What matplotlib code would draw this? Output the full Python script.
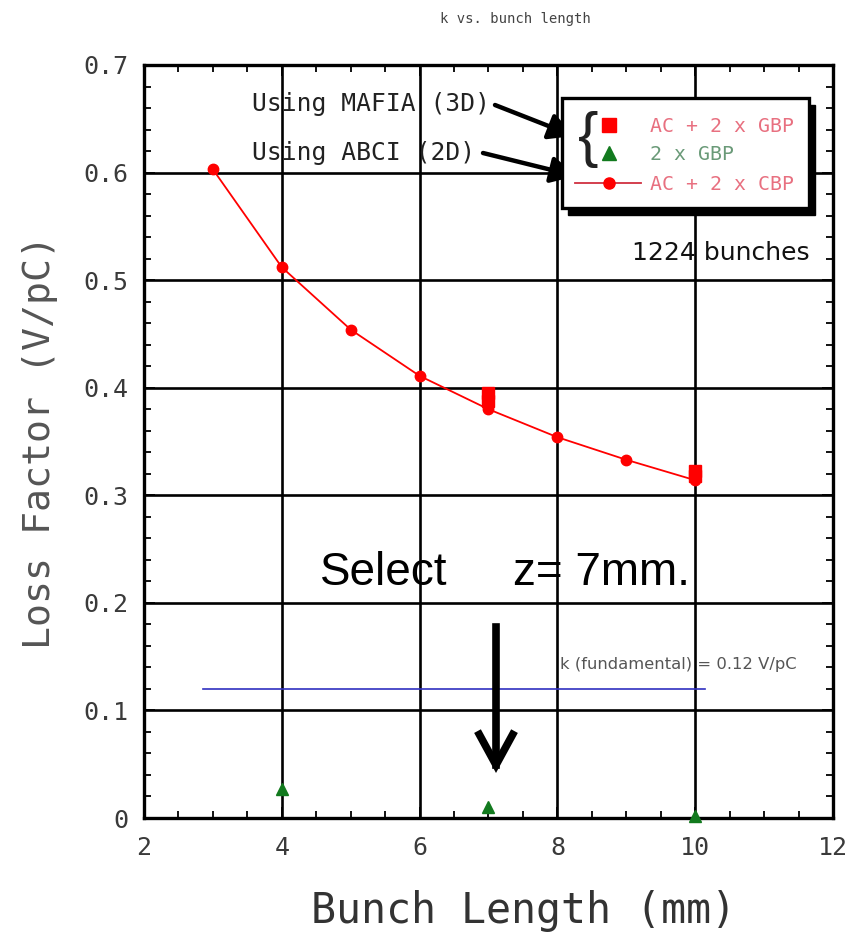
import matplotlib
matplotlib.use("Agg")
import matplotlib.pyplot as plt
from matplotlib.patches import Rectangle, FancyArrowPatch
from matplotlib.lines import Line2D
from matplotlib.ticker import MultipleLocator

# ---- data ----
abci_x = [3, 4, 5, 6, 7, 8, 9, 10]
abci_k = [0.603, 0.512, 0.454, 0.411, 0.380, 0.354, 0.333, 0.314]
mafia_full_x = [7, 7, 10, 10]
mafia_full_k = [0.395, 0.388, 0.323, 0.318]
mafia_gbp_x = [4, 7, 10]
mafia_gbp_k = [0.027, 0.010, 0.002]
k_fund = 0.12
k_fund_x = [2.86, 10.14]
x_ticks = [2, 4, 6, 8, 10, 12]
y_ticks = [0, 0.1, 0.2, 0.3, 0.4, 0.5, 0.6, 0.7]
y_tick_labels = ["0", "0.1", "0.2", "0.3", "0.4", "0.5", "0.6", "0.7"]

W, H = 854, 935
fig = plt.figure(figsize=(W / 100, H / 100), dpi=100)
ax = fig.add_axes([144 / W, 1 - 818 / H, (833 - 144) / W, (818 - 65) / H])

def P(x, y):
    return (x / W, 1 - y / H)

FT = fig.transFigure
MONO = "DejaVu Sans Mono"

ax.set_xlim(2, 12)
ax.set_ylim(0, 0.7)
ax.xaxis.set_minor_locator(MultipleLocator(0.5))
ax.yaxis.set_minor_locator(MultipleLocator(0.02))
ax.grid(True, which="major", color="black", linewidth=1.9)
ax.set_axisbelow(True)
for s in ax.spines.values():
    s.set_linewidth(2.4)
ax.tick_params(which="both", direction="in", top=True, right=True, width=1.3, colors="black",
               labelcolor="#3a3a3a")
ax.tick_params(which="major", length=8, labelsize=18)
ax.tick_params(axis="y", which="major", pad=11)
ax.tick_params(axis="x", which="major", pad=13)
ax.tick_params(which="minor", length=5)
ax.set_xticks(x_ticks)
ax.set_xticklabels([str(v) for v in x_ticks], family=MONO)
ax.set_yticks(y_ticks)
ax.set_yticklabels(y_tick_labels, family=MONO)

# data
ax.plot(abci_x, abci_k, color="red", linewidth=1.3, marker="o", markersize=7.5, zorder=4)
ax.plot(mafia_full_x, mafia_full_k, linestyle="none", color="red", marker="s", markersize=8.5, zorder=5)
ax.plot(mafia_gbp_x, mafia_gbp_k, linestyle="none", color="#127a1e", marker="^", markersize=8.5,
        zorder=5, clip_on=False)
ax.plot(k_fund_x, [k_fund, k_fund], color="#3030c0", linewidth=1.2, zorder=3)

# labels
fig.text(*P(515, 19), "k vs. bunch length", ha="center", va="center", fontsize=10, color="#444444", family=MONO)
fig.text(*P(40, 442), "Loss Factor (V/pC)", ha="center", va="center", rotation=90, fontsize=27.5,
         color="#555555", family=MONO)
fig.text(*P(524, 911), "Bunch Length (mm)", ha="center", va="center", fontsize=30,
         color="#333333", family=MONO)

# annotations
fig.text(*P(252, 104), "Using MAFIA (3D)", ha="left", va="center", fontsize=17.7, family=MONO, color="#222222")
fig.text(*P(252, 153), "Using ABCI (2D)", ha="left", va="center", fontsize=17.7, family=MONO, color="#222222")
fig.add_artist(FancyArrowPatch(P(495, 105), P(574, 136), transform=FT,
               arrowstyle="-|>,head_length=15,head_width=8", color="black", linewidth=3.2,
               mutation_scale=1, shrinkA=0, shrinkB=0))
fig.add_artist(FancyArrowPatch(P(483, 153), P(576, 176), transform=FT,
               arrowstyle="-|>,head_length=15,head_width=8", color="black", linewidth=3.2,
               mutation_scale=1, shrinkA=0, shrinkB=0))

# legend box with shadow
lx0, ly0, lx1, ly1 = 562, 98, 809, 208
fig.add_artist(Rectangle(P(lx0 + 6, ly1 + 7), (lx1 - lx0) / W, (ly1 - ly0) / H, transform=FT,
                         facecolor="black", edgecolor="black", zorder=6))
fig.add_artist(Rectangle(P(lx0, ly1), (lx1 - lx0) / W, (ly1 - ly0) / H, transform=FT,
                         facecolor="white", edgecolor="black", linewidth=2.4, zorder=7))
fig.text(*P(588, 139), "{", ha="center", va="center", fontsize=44, family="Liberation Sans",
         color="#222222", zorder=8)
fig.add_artist(Line2D([P(609, 125)[0]], [P(609, 125)[1]], transform=FT, marker="s", color="red",
                      markersize=10, linestyle="none", zorder=8))
fig.add_artist(Line2D([P(609, 153)[0]], [P(609, 153)[1]], transform=FT, marker="^", color="#127a1e",
                      markersize=10, linestyle="none", zorder=8))
fig.add_artist(Line2D([P(575, 183)[0], P(641, 183)[0]], [P(575, 183)[1], P(641, 183)[1]], transform=FT,
                      color="#d03040", linewidth=1.3, zorder=8))
fig.add_artist(Line2D([P(609, 183)[0]], [P(609, 183)[1]], transform=FT, marker="o", color="red",
                      markersize=8, linestyle="none", zorder=8))
fig.text(*P(650, 127), "AC + 2 x GBP", ha="left", va="center", fontsize=14.3, color="#e87080", family=MONO, zorder=8)
fig.text(*P(650, 155), "2 x GBP", ha="left", va="center", fontsize=14.3, color="#6a9a78", family=MONO, zorder=8)
fig.text(*P(650, 184), "AC + 2 x CBP", ha="left", va="center", fontsize=14.3, color="#e87080", family=MONO, zorder=8)

fig.text(*P(810, 253), "1224 bunches", ha="right", va="center", fontsize=18, family="DejaVu Sans", color="#111111")
fig.text(*P(320, 585), "Select", ha="left", va="baseline", fontsize=33, family="Liberation Sans")
fig.text(*P(513, 585), "z= 7mm.", ha="left", va="baseline", fontsize=33, family="Liberation Sans")
fig.text(*P(560, 665), "k (fundamental) = 0.12 V/pC", ha="left", va="center", fontsize=11.8,
         color="#555555", family="DejaVu Sans")

fig.add_artist(FancyArrowPatch(P(496, 627), P(496, 773), transform=FT,
               arrowstyle="->,head_length=22,head_width=12", color="black", linewidth=5.5,
               mutation_scale=1, shrinkA=0, shrinkB=0, capstyle="projecting", joinstyle="miter"))

fig.savefig("out.png", dpi=100, facecolor="white")
